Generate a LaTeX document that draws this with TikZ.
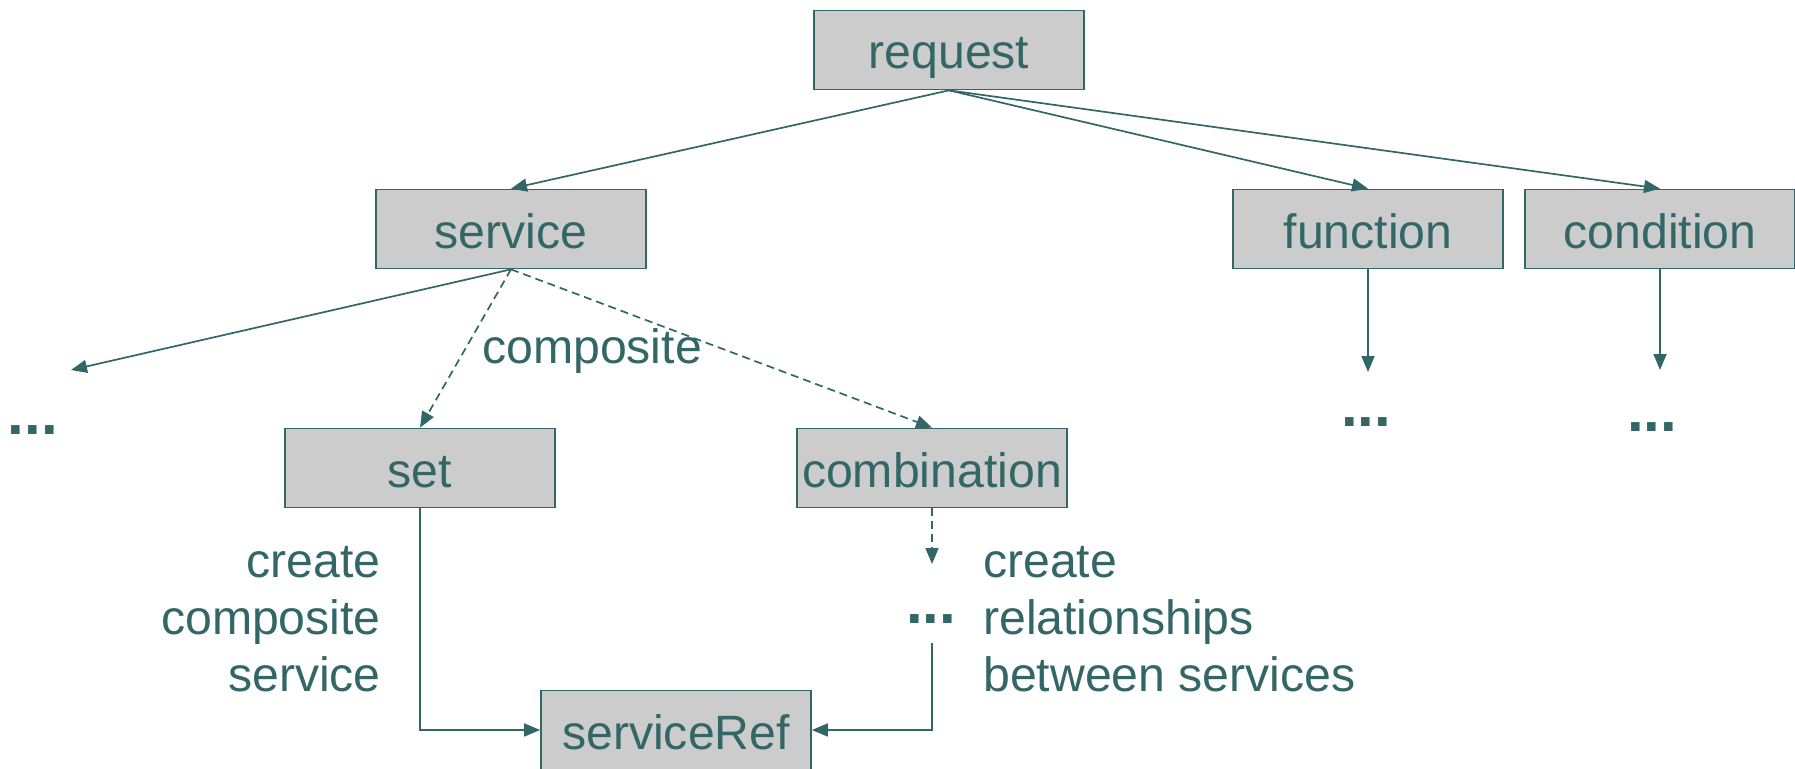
\documentclass[tikz,border=0pt]{standalone}
\usepackage{fontspec}
\setmainfont{Liberation Sans}
\usetikzlibrary{arrows.meta}
\definecolor{inkteal}{HTML}{336666}
\definecolor{boxgray}{HTML}{CCCCCC}

\begin{document}
\begin{tikzpicture}[x=1pt,y=-1pt,
  every node/.style={text=inkteal, font=\fontsize{48.2}{57}\selectfont},
  elem/.style={draw=inkteal, fill=boxgray, line width=1.7pt,
    minimum width=270pt, minimum height=79pt, inner sep=0pt,
    text height=38pt, text depth=0pt},
  link/.style={draw=inkteal, line width=1.7pt, -{Triangle[length=16pt,width=13pt]}},
  opt/.style={link, dash pattern=on 8pt off 5pt},
  more/.style={anchor=base, inner sep=0pt, font=\bfseries\fontsize{60}{60}\selectfont},
  notel/.style={anchor=base east, inner sep=0pt},
  noter/.style={anchor=base west, inner sep=0pt}
]
\useasboundingbox (0,0) rectangle (1795,768);

% element boxes
\node[elem] (request)     at (949,50)  {request};
\node[elem] (service)     at (511,229) {service};
\node[elem] (function)    at (1368,229) {function};
\node[elem] (condition)   at (1660,229) {condition};
\node[elem] (set)         at (420,468) {set};
\node[elem] (combination) at (932,468) {combination};
\node[elem] (serviceRef)  at (676,730) {serviceRef};

% open ends of the tree
\node[more] (moreLeft) at (33,434)  {...};
\node[more] (moreFunc) at (1366,426) {...};
\node[more] (moreCond) at (1652,431) {...};
\node[more] (moreComb) at (931,623) {...};

\coordinate (leftTip) at (71,370);
\coordinate (funcTip) at (1368,372);
\coordinate (condTip) at (1660,370);
\coordinate (combTip) at (932,564);
\coordinate (combBack) at (932,643);

% connectors
\draw[link] (request.south) -- (service.north);
\draw[link] (request.south) -- (function.north);
\draw[link] (request.south) -- (condition.north);
\draw[link] (service.south) -- (leftTip);
\draw[opt] (service.south) -- (set.north);
\draw[opt] (service.south) -- (combination.north);
\draw[link] (function.south) -- (funcTip);
\draw[link] (condition.south) -- (condTip);
\draw[opt] (combination.south) -- (combTip);
\draw[link] (combBack) |- (serviceRef.east);
\draw[link] (set.south) |- (serviceRef.west);

% labels
\node[noter] (compLabel) at (482,363) {composite};
\node[notel] (setNote1) at (381,577) {create};
\node[notel] (setNote2) at (381,634) {composite};
\node[notel] (setNote3) at (381,691) {service};
\node[noter] (combNote1) at (983,577) {create};
\node[noter] (combNote2) at (983,634) {relationships};
\node[noter] (combNote3) at (983,691) {between services};
\end{tikzpicture}
\end{document}
